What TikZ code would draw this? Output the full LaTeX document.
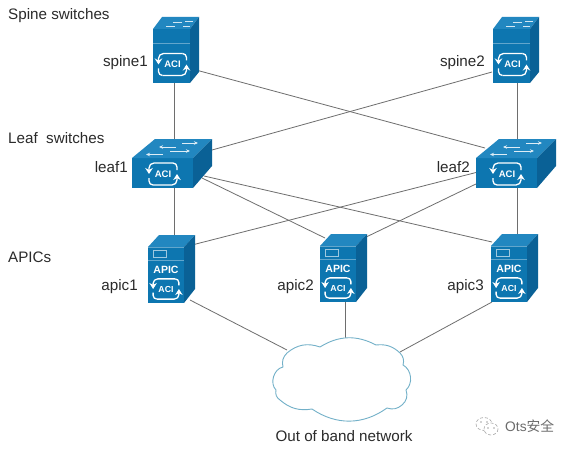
\documentclass[tikz,border=0pt]{standalone}
\usepackage{fontspec}
\setmainfont{Liberation Sans}
\newfontfamily\cjk{Noto Sans CJK SC}
\usetikzlibrary{arrows.meta,calc}
\definecolor{ciscofront}{HTML}{0D76B0}
\definecolor{ciscotop}{HTML}{2287C0}
\definecolor{ciscoside}{HTML}{0A6196}
\definecolor{linkgray}{HTML}{6E6E6E}
\definecolor{cloudline}{HTML}{72B0C8}
\definecolor{txt}{HTML}{2B2B2B}
\tikzset{
  hub/.style={inner sep=0pt,outer sep=0pt,minimum width=30pt,minimum height=30pt},
  link/.style={draw=linkgray,line width=0.8pt},
  lbl/.style={inner sep=0pt,text=txt,font=\fontsize{15.2}{17}\selectfont},
  wht/.style={draw=white,line width=1.3pt,line join=round},
  tinyarrow/.style={draw=white!85!ciscotop,line width=0.9pt,-{Stealth[length=4pt,width=3.5pt]}}
}
\newcommand{\aciicon}[2]{%
  \begin{scope}[shift={(#1,#2)}]
    \draw[wht,-{Stealth[length=6pt,width=7.5pt]}] (10,-11) -- (-9,-11) to[out=180,in=90] (-14,-6) -- (-14,0);
    \draw[wht,-{Stealth[length=6pt,width=7.5pt]}] (-10,11) -- (9,11) to[out=0,in=-90] (14,6) -- (14,0);
    \draw[wht] (10,-11) to[out=0,in=90] (14,-7) -- (14,-4);
    \draw[wht] (-10,11) to[out=180,in=-90] (-14,7) -- (-14,4);
    \node[inner sep=0pt,text=white,font=\fontsize{9.5}{10}\selectfont\bfseries] at (0,0) {ACI};
  \end{scope}}
\newcommand{\spinebox}[2]{%
  \begin{scope}[shift={(#1,#2)}]
    \fill[ciscofront] (0,12) rectangle (37,66);
    \fill[ciscotop] (0,12) -- (9,0) -- (46,0) -- (37,12) -- cycle;
    \fill[ciscoside] (37,12) -- (46,0) -- (46,55) -- (37,66) -- cycle;
    \draw[white!35!ciscofront,line width=0.8pt] (0,26) -- (37,26);
    \draw[white!80!ciscotop,line width=0.9pt] (13,9) -- (22,9) (20,5.5) -- (29,5.5) (30,9) -- (37,9) (32,4) -- (40,4);
    \aciicon{19.5}{47.5}
  \end{scope}}
\newcommand{\leafbox}[2]{%
  \begin{scope}[shift={(#1,#2)}]
    \fill[ciscofront] (0,19) rectangle (61,49);
    \fill[ciscotop] (0,19) -- (23,0) -- (80,0) -- (61,19) -- cycle;
    \fill[ciscoside] (61,19) -- (80,0) -- (80,27) -- (61,49) -- cycle;
    \draw[tinyarrow] (44,8) -- (27,8);
    \draw[tinyarrow] (38,12) -- (58,12);
    \draw[tinyarrow] (31,15.5) -- (14,15.5);
    \draw[tinyarrow] (50,4) -- (66,4);
    \aciicon{31}{35}
  \end{scope}}
\newcommand{\apicbox}[2]{%
  \begin{scope}[shift={(#1,#2)}]
    \fill[ciscofront] (0,12) rectangle (36,68);
    \fill[ciscotop] (0,12) -- (11,0) -- (47,0) -- (36,12) -- cycle;
    \fill[ciscoside] (36,12) -- (47,0) -- (47,54) -- (36,68) -- cycle;
    \draw[white!35!ciscofront,line width=0.8pt] (0,12.5) -- (36,12.5) (0,25) -- (36,25);
    \draw[white!60!ciscofront,line width=0.8pt] (5,15) rectangle (18,22);
    \node[inner sep=0pt,text=white,font=\fontsize{10.5}{11}\selectfont\bfseries] at (18,35) {APIC};
    \begin{scope}[shift={(18,54)},scale=0.92,transform shape]
      \aciicon{0}{0}
    \end{scope}
  \end{scope}}
\begin{document}
\begin{tikzpicture}[x=1pt,y=-1pt]
\useasboundingbox (0,0) rectangle (573,452);
\fill[white] (0,0) rectangle (573,452);
% anchors of the devices
\node[hub] (spine1) at (176,50) {};
\node[hub] (spine2) at (514,50) {};
\node[hub] (leaf1) at (172,164) {};
\node[hub] (leaf2) at (515,163) {};
\node[hub] (apic1) at (172,269) {};
\node[hub] (apic2) at (342,271) {};
\node[hub] (apic3) at (508,269) {};
\coordinate (cl) at (345,378);
% links
\draw[link] ([xshift=-2pt]spine1.center) -- ([xshift=2pt]leaf1.center);
\draw[link] ([xshift=3pt]spine2.center) -- ([xshift=2pt]leaf2.center);
\draw[link] ([xshift=20pt,yshift=-20pt]spine1.center) -- ([xshift=-30pt,yshift=15pt]leaf2.center);
\draw[link] ([xshift=-22pt,yshift=-22pt]spine2.center) -- ([xshift=40pt,yshift=14pt]leaf1.center);
\draw[link] ([xshift=2pt]leaf1.center) -- ([xshift=2pt]apic1.center);
\draw[link] ([xshift=2pt]leaf2.center) -- ([xshift=9pt]apic3.center);
\draw[link] ([xshift=30pt,yshift=-14pt]leaf1.center) -- ([xshift=-17pt,yshift=33pt]apic2.center);
\draw[link] ([xshift=32pt,yshift=-12pt]leaf1.center) -- ([xshift=-16pt,yshift=27pt]apic3.center);
\draw[link] ([xshift=-37pt,yshift=-9pt]leaf2.center) -- ([xshift=20pt,yshift=24pt]apic1.center);
\draw[link] ([xshift=-37pt,yshift=-20pt]leaf2.center) -- ([xshift=18pt,yshift=31pt]apic2.center);
\draw[link] ([xshift=18pt,yshift=-31pt]apic1.center) -- ([xshift=-58pt,yshift=28pt]cl);
\draw[link] ([xshift=3pt]apic2.center) -- (cl);
\draw[link] ([xshift=-16pt,yshift=-33pt]apic3.center) -- ([xshift=55pt,yshift=26pt]cl);
% cloud shape
\draw[cloudline,fill=white,line width=0.9pt]
  (287,353) to[bend left=30] (320,347) to[bend left=30] (376,345) to[bend left=25] (400,353)
  to[bend left=30] (403,365) to[bend left=55] (406,390) to[bend left=35] (402,405)
  to[bend left=30] (387,408) to[bend left=35] (312,409) to[bend left=25] (280,400)
  to[bend left=35] (276,390) to[bend left=62] (283,367) to[bend left=30] (287,353) -- cycle;
% devices
\spinebox{153}{17}
\spinebox{493}{17}
\leafbox{132}{139}
\leafbox{476}{139}
\apicbox{148}{235}
\apicbox{320}{234}
\apicbox{491}{234}
% labels
\node[lbl,anchor=west] (t1) at (8,15.5) {Spine switches};
\node[lbl,anchor=west] (t2) at (8,138) {Leaf\ \ switches};
\node[lbl,anchor=west] (t3) at (8,257) {APICs};
\node[lbl,anchor=east] (n1) at (148,62.5) {spine1};
\node[lbl,anchor=east] (n2) at (485,62.5) {spine2};
\node[lbl,anchor=east] (n3) at (128,167) {leaf1};
\node[lbl,anchor=east] (n4) at (470,167) {leaf2};
\node[lbl,anchor=east] (n5) at (138,286.5) {apic1};
\node[lbl,anchor=east] (n6) at (314,286.5) {apic2};
\node[lbl,anchor=east] (n7) at (484,286.5) {apic3};
\node[lbl] (t4) at (344,436) {Out of band network};
% watermark
\begin{scope}[draw=gray!70,line width=0.6pt]
  \draw[densely dashed] (484,424) ellipse (8 and 6.5);
  \draw[densely dashed,fill=white] (491,429) ellipse (7 and 6);
  \fill[gray!70] (481,422) circle (0.9) (487,422) circle (0.9) (488,428) circle (0.8) (494,428) circle (0.8);
\end{scope}
\node[inner sep=0pt,anchor=west,text=gray!85!black,font=\fontsize{13.8}{15}\selectfont] (wm) at (505,426) {Ots{\cjk 安全}};
\end{tikzpicture}
\end{document}
